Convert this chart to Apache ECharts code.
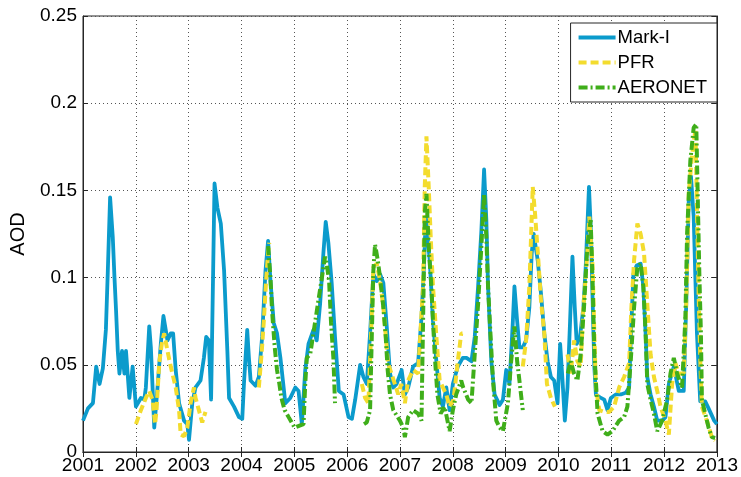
<!DOCTYPE html>
<html>
<head>
<meta charset="utf-8">
<script src="https://cdn.jsdelivr.net/npm/echarts@6/dist/echarts.min.js"></script>
<style>html,body{margin:0;padding:0;background:#fff}#c{width:741px;height:477px}</style>
</head>
<body>
<div id="c"></div>
<script>
// ---- data (decimal year, AOD); null = gap ----
var xTicks = [2001,2002,2003,2004,2005,2006,2007,2008,2009,2010,2011,2012,2013];
var yTicks = [0, 0.05, 0.1, 0.15, 0.2, 0.25];

var markYears = [2001.000,2001.094,2001.188,2001.250,2001.314,2001.376,2001.433,2001.470,2001.513,2001.564,2001.596,2001.626,2001.658,2001.690,2001.739,2001.784,2001.814,2001.878,2001.940,2002.002,2002.096,2002.160,2002.190,2002.254,2002.285,2002.349,2002.411,2002.473,2002.523,2002.599,2002.661,2002.706,2002.755,2002.819,2002.913,2002.975,2003.007,2003.069,2003.131,2003.225,2003.289,2003.332,2003.383,2003.425,2003.490,2003.545,2003.609,2003.671,2003.733,2003.765,2003.859,2003.953,2004.015,2004.047,2004.109,2004.141,2004.173,2004.267,2004.329,2004.391,2004.455,2004.504,2004.549,2004.611,2004.673,2004.737,2004.831,2004.925,2005.019,2005.081,2005.143,2005.207,2005.269,2005.363,2005.425,2005.489,2005.551,2005.595,2005.645,2005.708,2005.771,2005.843,2005.933,2006.027,2006.091,2006.153,2006.247,2006.309,2006.373,2006.435,2006.497,2006.561,2006.624,2006.686,2006.750,2006.812,2006.874,2006.938,2007.032,2007.094,2007.156,2007.250,2007.344,2007.408,2007.457,2007.489,2007.564,2007.626,2007.690,2007.752,2007.814,2007.878,2007.940,2008.002,2008.096,2008.190,2008.260,2008.354,2008.416,2008.480,2008.542,2008.593,2008.636,2008.668,2008.730,2008.792,2008.886,2008.950,2009.012,2009.074,2009.138,2009.168,2009.219,2009.262,2009.326,2009.388,2009.450,2009.495,2009.533,2009.608,2009.670,2009.733,2009.796,2009.858,2009.920,2009.984,2010.033,2010.078,2010.122,2010.172,2010.221,2010.266,2010.310,2010.347,2010.409,2010.473,2010.517,2010.579,2010.617,2010.648,2010.680,2010.710,2010.805,2010.868,2010.930,2010.993,2011.087,2011.181,2011.275,2011.339,2011.369,2011.420,2011.482,2011.557,2011.608,2011.651,2011.683,2011.745,2011.809,2011.871,2011.965,2012.027,2012.091,2012.185,2012.279,2012.373,2012.422,2012.467,2012.510,2012.561,2012.591,2012.623,2012.685,2012.779,2012.843,2012.949,2013.000];
var markValues = [0.018,0.025,0.028,0.049,0.039,0.048,0.070,0.104,0.146,0.123,0.100,0.081,0.058,0.045,0.058,0.045,0.058,0.031,0.049,0.026,0.031,0.030,0.037,0.072,0.060,0.014,0.037,0.062,0.078,0.064,0.068,0.068,0.047,0.028,0.018,0.016,0.007,0.028,0.037,0.041,0.054,0.066,0.064,0.030,0.154,0.140,0.131,0.104,0.058,0.031,0.026,0.020,0.019,0.039,0.070,0.054,0.041,0.038,0.043,0.066,0.104,0.121,0.098,0.074,0.068,0.054,0.028,0.031,0.037,0.035,0.016,0.047,0.062,0.070,0.064,0.085,0.114,0.132,0.120,0.097,0.066,0.035,0.033,0.020,0.019,0.030,0.050,0.043,0.039,0.068,0.102,0.098,0.102,0.097,0.072,0.045,0.037,0.039,0.047,0.033,0.037,0.049,0.051,0.077,0.108,0.135,0.110,0.075,0.052,0.031,0.026,0.037,0.024,0.039,0.049,0.054,0.054,0.052,0.066,0.095,0.127,0.162,0.133,0.095,0.052,0.033,0.027,0.030,0.047,0.039,0.075,0.095,0.075,0.060,0.060,0.064,0.083,0.114,0.125,0.110,0.091,0.068,0.052,0.043,0.041,0.028,0.062,0.041,0.018,0.037,0.075,0.112,0.083,0.062,0.066,0.083,0.106,0.152,0.125,0.087,0.049,0.033,0.031,0.030,0.024,0.031,0.033,0.033,0.034,0.037,0.064,0.102,0.107,0.108,0.095,0.068,0.043,0.033,0.026,0.018,0.018,0.020,0.039,0.049,0.035,0.035,0.087,0.144,0.158,0.135,0.102,0.068,0.029,0.029,0.025,0.018,0.016];

var pfrYears = [2002.002,2002.096,2002.190,2002.254,2002.317,2002.364,2002.392,2002.443,2002.491,2002.536,2002.599,2002.661,2002.755,2002.819,2002.849,2002.913,2002.975,2003.037,2003.101,2003.131,2003.194,2003.257,2003.319,2003.800,
 2004.329,2004.380,2004.423,2004.466,2004.504,2004.527,2005.500,
 2006.279,2006.341,2006.403,2006.454,2006.497,2006.561,2006.624,2006.686,2006.750,2006.774,2006.968,2007.024,2007.094,2007.156,2007.250,2007.344,2007.438,2007.470,2007.502,2007.545,2007.583,2007.626,2007.690,2007.752,2007.814,2007.878,2007.940,2008.015,2008.096,2008.160,2008.184,2008.800,
 2009.326,2009.388,2009.450,2009.482,2009.514,2009.557,2009.620,2009.670,2009.733,2009.783,2009.858,2009.934,2010.050,
 2010.172,2010.234,2010.297,2010.360,2010.422,2010.473,2010.548,2010.585,2010.648,2010.680,2010.710,2010.774,2010.868,2010.962,2011.056,2011.150,2011.244,2011.339,2011.382,2011.433,2011.495,2011.557,2011.621,2011.670,2011.745,2011.809,2011.871,2011.933,2012.027,2012.091,2012.153,2012.215,2012.279,2012.373,2012.422,2012.467,2012.529,2012.595,2012.623,2012.655,2012.689,2012.717,2012.811,2012.905,2012.967];
var pfrValues = [0.016,0.024,0.031,0.035,0.030,0.016,0.024,0.051,0.062,0.068,0.058,0.049,0.037,0.024,0.010,0.009,0.014,0.028,0.037,0.031,0.024,0.017,0.023,null,
 0.037,0.056,0.075,0.098,0.114,0.120,null,
 0.039,0.031,0.028,0.068,0.106,0.108,0.098,0.083,0.060,0.051,0.033,0.039,0.028,0.041,0.047,0.045,0.095,0.152,0.181,0.152,0.123,0.095,0.066,0.041,0.037,0.033,0.026,0.030,0.052,0.068,0.068,null,
 0.049,0.064,0.095,0.123,0.152,0.137,0.110,0.087,0.068,0.039,0.031,0.026,null,
 0.056,0.045,0.064,0.052,0.049,0.083,0.114,0.135,0.106,0.068,0.037,0.024,0.023,0.023,0.026,0.037,0.043,0.051,0.083,0.110,0.131,0.125,0.114,0.091,0.056,0.043,0.035,0.026,0.018,0.010,0.039,0.051,0.045,0.045,0.087,0.148,0.170,0.185,0.140,0.090,0.050,0.026,0.018,0.0085,0.0066];

var aeroYears = [2004.504,2004.549,2004.579,2004.630,2004.673,2004.718,2004.756,2004.818,2004.893,2005.006,2005.175,2005.207,2005.237,2005.301,2005.583,2005.613,2005.659,2005.696,2005.740,2005.771,2006.000,
 2006.320,2006.373,2006.435,2006.467,2006.497,2006.529,2006.580,2006.624,2006.686,2006.731,2006.768,2006.812,2006.874,2007.000,2007.062,2007.094,2007.156,2007.250,2007.344,2007.408,2007.438,2007.470,2007.502,2007.551,2007.596,2007.626,2007.658,2007.709,2007.771,2007.846,2007.940,2008.002,2008.066,2008.160,2008.198,2008.292,2008.354,2008.416,2008.480,2008.542,2008.593,2008.636,2008.668,2008.717,2008.762,2008.824,2008.886,2008.950,2009.044,2009.106,2009.168,2009.219,2009.262,2009.326,2009.700,
 2010.178,2010.234,2010.297,2010.360,2010.422,2010.485,2010.548,2010.611,2010.648,2010.680,2010.742,2010.836,2010.930,2011.024,2011.150,2011.244,2011.306,2011.369,2011.433,2011.495,2011.557,2011.608,2011.651,2011.683,2011.745,2011.809,2011.871,2011.965,2012.059,2012.122,2012.185,2012.247,2012.341,2012.404,2012.436,2012.498,2012.561,2012.610,2012.642,2012.670,2012.698,2012.717,2012.779,2012.843,2012.905,2012.967];
var aeroValues = [0.118,0.100,0.081,0.060,0.047,0.039,0.031,0.024,0.020,0.014,0.016,0.039,0.054,0.056,0.112,0.108,0.098,0.074,0.054,0.028,null,
 0.016,0.017,0.024,0.066,0.104,0.119,0.110,0.100,0.083,0.066,0.047,0.033,0.024,0.018,0.014,0.0085,0.020,0.024,0.022,0.018,0.075,0.137,0.148,0.114,0.095,0.075,0.056,0.033,0.022,0.026,0.012,0.024,0.033,0.041,0.037,0.030,0.028,0.056,0.085,0.118,0.148,0.123,0.095,0.066,0.041,0.018,0.014,0.012,0.028,0.052,0.072,0.052,0.041,0.024,null,
 0.045,0.052,0.045,0.041,0.056,0.083,0.118,0.133,0.097,0.058,0.022,0.012,0.010,0.012,0.018,0.020,0.026,0.052,0.083,0.106,0.108,0.095,0.068,0.039,0.030,0.022,0.012,0.018,0.030,0.045,0.054,0.045,0.037,0.077,0.125,0.167,0.186,0.188,0.140,0.100,0.068,0.030,0.022,0.014,0.0085,0.008];

function pairs(xs, ys) {
  return xs.map(function (x, i) { return [x, ys[i] === null ? '-' : ys[i]]; });
}

var FONT = 'Liberation Sans, Arial, sans-serif';
var chart = echarts.init(document.getElementById('c'), null, {renderer: 'canvas'});
var gridLine = {show: true, lineStyle: {color: '#555', width: 1, type: [1, 3]}};
chart.setOption({
  animation: false,
  backgroundColor: '#fff',
  grid: {left: 83, right: 20, top: 16, bottom: 25, show: true, borderColor: '#262626', borderWidth: 1},
  legend: {
    orient: 'vertical', right: 24, top: 23,
    backgroundColor: '#fff', borderColor: '#262626', borderWidth: 1,
    padding: [5, 10, 5, 6], itemGap: 6, itemWidth: 37, itemHeight: 14,
    itemStyle: {color: 'rgba(0,0,0,0)', borderWidth: 0, opacity: 0},
    lineStyle: {width: 4},
    textStyle: {fontFamily: FONT, fontSize: 18.5, lineHeight: 18, color: '#000', padding: [0, 0, 0, -3]},
    data: ['Mark-I', 'PFR', 'AERONET']
  },
  xAxis: [{
    type: 'value', min: xTicks[0], max: xTicks[xTicks.length - 1], interval: 1,
    axisLine: {lineStyle: {color: '#262626'}},
    axisTick: {inside: true, length: 5, lineStyle: {color: '#262626'}},
    axisLabel: {color: '#000', fontFamily: FONT, fontSize: 19, margin: 4, formatter: function (v) { return String(v); }},
    splitLine: gridLine
  }, {
    type: 'value', position: 'top', min: xTicks[0], max: xTicks[xTicks.length - 1], interval: 1,
    axisLine: {lineStyle: {color: '#262626'}},
    axisTick: {inside: true, length: 5, lineStyle: {color: '#262626'}},
    axisLabel: {show: false}, splitLine: {show: false}
  }],
  yAxis: [{
    type: 'value', min: yTicks[0], max: yTicks[yTicks.length - 1], interval: 0.05,
    name: 'AOD', nameLocation: 'middle', nameGap: 55, nameRotate: 90,
    nameTextStyle: {fontFamily: FONT, fontSize: 20, color: '#000'},
    axisLine: {show: true, lineStyle: {color: '#262626'}},
    axisTick: {show: true, inside: true, length: 5, lineStyle: {color: '#262626'}},
    axisLabel: {color: '#000', fontFamily: FONT, fontSize: 19, margin: 6, formatter: function (v) { return String(+v.toFixed(2)); }},
    splitLine: gridLine
  }, {
    type: 'value', position: 'right', min: yTicks[0], max: yTicks[yTicks.length - 1], interval: 0.05,
    axisLine: {show: true, lineStyle: {color: '#262626'}},
    axisTick: {show: true, inside: true, length: 5, lineStyle: {color: '#262626'}},
    axisLabel: {show: false}, splitLine: {show: false}
  }],
  series: [{
    name: 'Mark-I', type: 'line', symbol: 'none', connectNulls: false,
    data: pairs(markYears, markValues),
    lineStyle: {color: '#0b9bcc', width: 3.8, join: 'round'}, itemStyle: {color: '#0b9bcc'}
  }, {
    name: 'PFR', type: 'line', symbol: 'none', connectNulls: false,
    data: pairs(pfrYears, pfrValues),
    lineStyle: {color: '#f3dc2e', width: 4, type: [8, 4]}, itemStyle: {color: '#f3dc2e'}
  }, {
    name: 'AERONET', type: 'line', symbol: 'none', connectNulls: false,
    data: pairs(aeroYears, aeroValues),
    lineStyle: {color: '#3fae1a', width: 4, type: [9, 3, 2, 3]}, itemStyle: {color: '#3fae1a'}
  }]
});
</script>
</body>
</html>
